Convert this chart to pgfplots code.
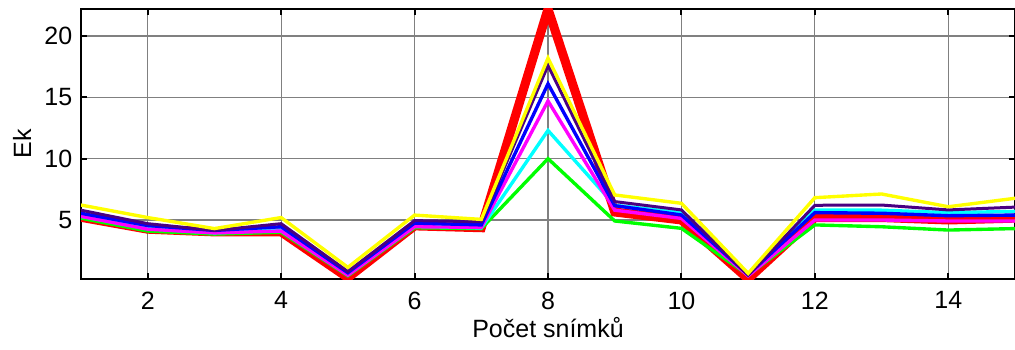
\documentclass[border=0pt]{standalone}
\usepackage{fontspec}
\setmainfont{Liberation Sans}
\usepackage{pgfplots}
\pgfplotsset{compat=1.18}
\definecolor{myindigo}{rgb}{0.29,0,0.51}
\definecolor{pcyan}{rgb}{0,1,1}
\definecolor{pmagenta}{rgb}{1,0,1}
\definecolor{pyellow}{rgb}{1,1,0}
\definecolor{pgreen}{rgb}{0,1,0}
\definecolor{pred}{rgb}{1,0,0}
\definecolor{pblue}{rgb}{0,0,1}
\begin{document}
\begin{tikzpicture}
\useasboundingbox (-32.4pt,-28pt) rectangle (373.6pt,111.6pt);
\begin{axis}[
  at={(0,0)}, anchor=south west,
  scale only axis, width=373.6pt, height=108pt,
  xmin=1, xmax=15, ymin=0.19, ymax=22.2,
  xtick={2,4,...,14}, ytick={5,10,15,20},
  tick align=inside, major tick length=2.5pt,
  grid=major, major grid style={black!50, line width=0.45pt},
  axis line style={black, line width=0.8pt},
  tick style={black, line width=0.8pt},
  font=\fontsize{10}{12}\selectfont,
  /pgf/number format/assume math mode=true,
  xticklabel style={yshift=-1.5pt},
  xlabel={Počet snímků}, ylabel={Ek},
  xlabel style={at={(axis description cs:0.5,-0.2167)}, anchor=base},
  ylabel style={at={(axis description cs:-0.0632,0.5)}, anchor=center},
]
\addplot[pred, line width=3.6pt] coordinates {(1,5.22)(2,4.25)(3,4.03)(4,4.03)(5,0.3)(6,4.52)(7,4.37)(8,22.2)(9,5.65)(10,5.0)(11,0.2)(12,5.2)(13,5.2)(14,5.0)(15,5.15)};
\addplot[pgreen, line width=1.35pt] coordinates {(1,5.15)(2,4.1)(3,3.85)(4,4.0)(5,0.45)(6,4.37)(7,4.3)(8,10.0)(9,4.92)(10,4.32)(11,0.5)(12,4.6)(13,4.45)(14,4.18)(15,4.3)};
\addplot[pcyan, line width=1.35pt] coordinates {(1,5.3)(2,4.3)(3,3.95)(4,4.2)(5,0.6)(6,4.5)(7,4.35)(8,12.3)(9,6.2)(10,5.6)(11,0.5)(12,5.8)(13,5.8)(14,5.6)(15,5.7)};
\addplot[pmagenta, line width=1.35pt] coordinates {(1,5.3)(2,4.25)(3,3.95)(4,4.1)(5,0.5)(6,4.45)(7,4.4)(8,14.7)(9,5.8)(10,5.13)(11,0.45)(12,5.0)(13,5.0)(14,4.92)(15,4.92)};
\addplot[pblue, line width=1.35pt] coordinates {(1,5.55)(2,4.55)(3,4.15)(4,4.45)(5,0.7)(6,4.75)(7,4.6)(8,16.1)(9,6.17)(10,5.41)(11,0.55)(12,5.6)(13,5.55)(14,5.35)(15,5.4)};
\addplot[myindigo, line width=1.2pt] coordinates {(1,5.8)(2,4.7)(3,4.15)(4,4.7)(5,0.8)(6,4.95)(7,4.86)(8,17.6)(9,6.5)(10,5.82)(11,0.5)(12,6.2)(13,6.22)(14,5.82)(15,6.05)};
\addplot[pyellow, line width=1.35pt] coordinates {(1,6.22)(2,5.2)(3,4.3)(4,5.2)(5,1.14)(6,5.4)(7,5.05)(8,18.2)(9,7.04)(10,6.36)(11,0.65)(12,6.82)(13,7.12)(14,6.08)(15,6.77)};
\end{axis}
\end{tikzpicture}
\end{document}
